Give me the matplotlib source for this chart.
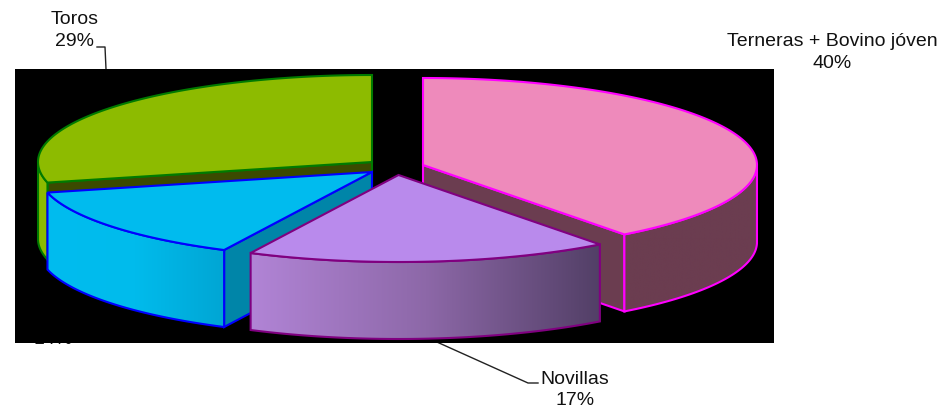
import numpy as np
import matplotlib
matplotlib.use("Agg")
import matplotlib.pyplot as plt
from matplotlib.patches import Polygon, Rectangle
from matplotlib.colors import LinearSegmentedColormap

plt.rcParams["font.family"] = ["Liberation Sans", "DejaVu Sans"]

labels = ["Terneras + Bovino jóven", "Novillas", "", "Toros"]
pct_labels = ["40%", "17%", "14%", "29%"]
shares = [39.7, 17.6, 13.9, 28.8]
centers = [(423, 165), (398.5, 175), (372, 172), (372, 162)]
top_colors = ["#ee8abb", "#b98aec", "#00bbee", "#8dbb00"]
inner_colors = ["#6b3d50", "#54406a", "#0085a8", "#3b4a00"]
edge_colors = ["#ff00ff", "#800080", "#0000ff", "#007a00"]
wall_colors = [
    ["#6b3d50", "#6b3d50"],
    ["#b184d6", "#8d68a8", "#523f66"],
    ["#00bcef", "#00bbec", "#00a6d4"],
    ["#8dbb00", "#8dbb00"],
]
# which cut face can be seen: 0 = start side, 1 = end side, None = hidden
visible_face = [1, None, 0, 0]

RX, RY, DEPTH = 334, 87, 77
TEXT_SIZE = 14


def draw_slice(ax, center, a1, a2, top, inner, edge, wall, face, z):
    cx, cy = center
    t = np.radians(np.linspace(a1, a2, 160))
    x = cx + RX * np.cos(t)
    y = cy - RY * np.sin(t)

    if face is not None:
        px, py = (x[0], y[0]) if face == 0 else (x[-1], y[-1])
        pts = [(cx, cy), (px, py), (px, py + DEPTH), (cx, cy + DEPTH)]
        ax.add_patch(Polygon(pts, fc=inner, ec=edge, lw=1.5, zorder=z))

    # outer wall, only the part turned to the viewer
    mask = np.sin(t) <= 0
    wx, wy = x[mask], y[mask]
    pts = np.r_[np.c_[wx, wy], np.c_[wx[::-1], wy[::-1] + DEPTH]]
    clip = Polygon(pts, fc="none", ec="none", zorder=z + 0.1)
    ax.add_patch(clip)
    cmap = LinearSegmentedColormap.from_list("wall", wall)
    im = ax.imshow(
        np.linspace(0, 1, 256)[None, :],
        cmap=cmap,
        extent=(wx.min(), wx.max(), wy.max() + DEPTH, wy.min()),
        aspect="auto",
        zorder=z + 0.1,
    )
    im.set_clip_path(clip)
    ax.add_patch(Polygon(pts, fc="none", ec=edge, lw=1.5, zorder=z + 0.2))

    pts = np.r_[[(cx, cy)], np.c_[x, y]]
    ax.add_patch(Polygon(pts, fc=top, ec=edge, lw=1.5, zorder=z + 0.3))


fig = plt.figure(figsize=(9.41, 4.09), dpi=100)
ax = fig.add_axes([0, 0, 1, 1])

# label that sits behind the black plot area, only its foot shows
ax.text(53, 343.6, pct_labels[2], ha="center", va="baseline", fontsize=TEXT_SIZE, color="#111111", zorder=1)
ax.add_patch(Rectangle((15, 69), 759, 274, fc="black", ec="none", zorder=2))

angle = 90.0
spans = []
for s in shares:
    spans.append((angle, angle - s * 3.6))
    angle -= s * 3.6

# back to front
for i, z in [(3, 3), (0, 4), (2, 5), (1, 6)]:
    a1, a2 = spans[i]
    draw_slice(ax, centers[i], a1, a2, top_colors[i], inner_colors[i], edge_colors[i],
               wall_colors[i], visible_face[i], z)

# leader lines
ax.plot([97, 105, 106], [47, 47, 69], color="#222222", lw=1, zorder=1)
ax.plot([428, 528, 538], [338, 383, 383], color="#222222", lw=1, zorder=1)

ax.text(832, 52.5, f"{labels[0]}\n{pct_labels[0]}", ha="center", va="center", fontsize=TEXT_SIZE, linespacing=1.33, color="#111111")
ax.text(575, 390, f"{labels[1]}\n{pct_labels[1]}", ha="center", va="center", fontsize=TEXT_SIZE, linespacing=1.33, color="#111111")
ax.text(75, 30.5, f"{labels[3]}\n{pct_labels[3]}", ha="center", va="center", fontsize=TEXT_SIZE, linespacing=1.33, color="#111111")

ax.set_xlim(0, 941)
ax.set_ylim(409, 0)
ax.axis("off")
fig.savefig("out.png", dpi=100)
